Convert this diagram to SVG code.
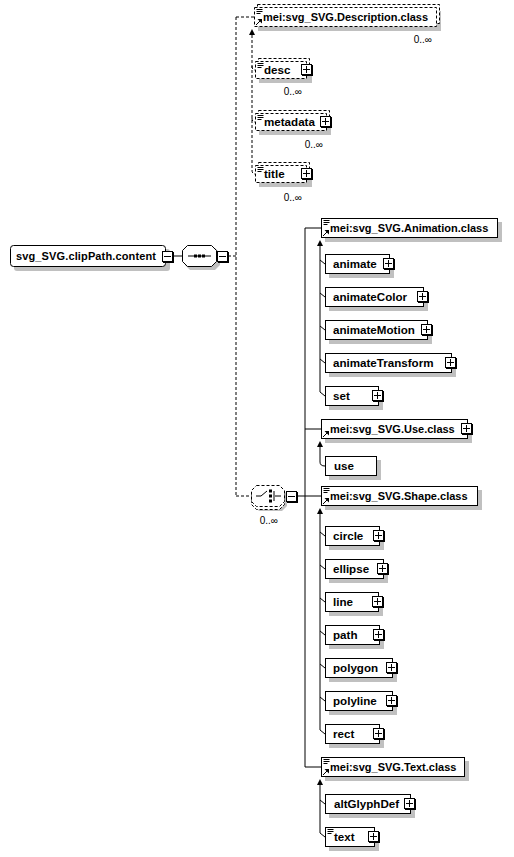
<svg xmlns="http://www.w3.org/2000/svg" width="514" height="857" viewBox="0 0 514 857">
<style>
.bg{fill:#ffffff}
.sh{fill:#c0c0c0}
.box{fill:#ffffff;stroke:#000000;stroke-width:1}
.dbox{fill:#ffffff;stroke:#000000;stroke-width:1;stroke-dasharray:3,2}
.t{font-family:"Liberation Sans",Arial,sans-serif;font-weight:bold;font-size:11px;fill:#000000}
.c{font-size:11.6px}
.occ{font-family:"Liberation Sans",Arial,sans-serif;font-size:10px;fill:#000000}
.ln{fill:none;stroke:#000000;stroke-width:1}
.dl{fill:none;stroke:#000000;stroke-width:1;stroke-dasharray:3,2}
.ic{fill:none;stroke:#000000;stroke-width:1}
</style>
<defs>
<g id="plus"><rect x="1" y="1" width="11" height="11" fill="#000000"/><rect x="0.5" y="0.5" width="10" height="10" class="box"/><path d="M2,5.5H9M5.5,2V9" class="ic"/></g>
<g id="minus"><rect x="1" y="1" width="11" height="11" fill="#000000"/><rect x="0.5" y="0.5" width="10" height="10" class="box"/><path d="M2,5.5H9" class="ic"/></g>
<g id="doc"><path d="M0.5,0.5H6.5M0.5,2.5H6.5M0.5,4.5H4.5" class="ic"/></g>
<g id="ref"><path d="M0,6L4,2" class="ic"/><path d="M1.5,0H6V4.5Z" fill="#000000"/></g>
<path id="up" d="M0,0L-3,6H3Z" fill="#000000"/>
</defs>
<rect width="514" height="857" class="bg"/>

<g id="connectors">
<path d="M173,256H182" class="ln"/>
<path d="M228,256H236M236,17V496M236,17H254M236,496H251" class="dl"/>
<path d="M252,35V170Q252,174 255,174M252,66Q252,70 255,70M252,118Q252,122 255,122" class="dl"/>
<use href="#up" x="252" y="29"/>
<path d="M297,496H305M305,228V767M305,228H321M305,429H321M305,496H321M305,767H321" class="ln"/>
<path d="M320,246V392L325,396M320,260L325,264M320,293L325,297M320,326L325,330M320,359L325,363" class="ln"/>
<use href="#up" x="320" y="240"/>
<path d="M320,447V462Q320,466 325,466" class="ln"/>
<use href="#up" x="320" y="441"/>
<path d="M320,514V730L325,734M320,532L325,536M320,565L325,569M320,598L325,602M320,631L325,635M320,664L325,668M320,697L325,701" class="ln"/>
<use href="#up" x="320" y="508"/>
<path d="M320,785V833L325,837M320,800L325,804" class="ln"/>
<use href="#up" x="320" y="779"/>
</g>

<g id="root">
<rect x="14" y="249" width="156" height="22" rx="3" class="sh"/>
<rect x="10.5" y="245.5" width="155" height="21" rx="3" class="box"/>
<text x="16" y="260" class="t" textLength="140">svg_SVG.clipPath.content</text>
<use href="#minus" x="162" y="251"/>
</g>

<g id="sequence">
<polygon points="190,248 215,248 220,253 220,265 215,270 190,270 185,265 185,253" class="sh"/>
<polygon points="187.5,245.5 211.5,245.5 216.5,250.5 216.5,261.5 211.5,266.5 187.5,266.5 182.5,261.5 182.5,250.5" class="box"/>
<path d="M188,256H211" class="ln"/>
<rect x="194" y="254.5" width="3" height="3" fill="#000000"/>
<rect x="198" y="254.5" width="3" height="3" fill="#000000"/>
<rect x="202" y="254.5" width="3" height="3" fill="#000000"/>
<use href="#minus" x="217" y="251"/>
</g>

<g id="description-class">
<rect x="258" y="11" width="183" height="20" class="sh"/>
<rect x="257.5" y="4.5" width="182" height="19" class="dbox"/>
<rect x="254.5" y="7.5" width="182" height="19" class="dbox"/>
<use href="#doc" x="256" y="9"/>
<use href="#ref" x="256" y="19"/>
<text x="263" y="21" class="t">mei:svg_SVG.Description.class</text>
<text x="432" y="43" class="occ" text-anchor="end">0..∞</text>
</g>

<g id="desc">
<rect x="259" y="65" width="53" height="18" class="sh"/>
<rect x="258.5" y="58.5" width="51" height="17" class="dbox"/>
<rect x="255.5" y="61.5" width="51" height="17" class="dbox"/>
<use href="#doc" x="257" y="63"/>
<text x="264" y="74" class="t c">desc</text>
<use href="#plus" x="301" y="64"/>
<text x="302" y="95" class="occ" text-anchor="end">0..∞</text>
</g>

<g id="metadata">
<rect x="259" y="117" width="72" height="18" class="sh"/>
<rect x="258.5" y="110.5" width="71" height="17" class="dbox"/>
<rect x="255.5" y="113.5" width="71" height="17" class="dbox"/>
<use href="#doc" x="257" y="115"/>
<text x="264" y="126" class="t c">metadata</text>
<use href="#plus" x="320" y="116"/>
<text x="323" y="148" class="occ" text-anchor="end">0..∞</text>
</g>

<g id="title">
<rect x="259" y="169" width="53" height="18" class="sh"/>
<rect x="258.5" y="162.5" width="51" height="17" class="dbox"/>
<rect x="255.5" y="165.5" width="51" height="17" class="dbox"/>
<use href="#doc" x="257" y="167"/>
<text x="264" y="178" class="t c">title</text>
<use href="#plus" x="301" y="168"/>
<text x="302" y="201" class="occ" text-anchor="end">0..∞</text>
</g>

<g id="choice">
<polygon points="259,489 282,489 287,494 287,506 282,511 259,511 254,506 254,494" class="sh"/>
<polygon points="256.5,488.5 279.5,488.5 284.5,493.5 284.5,504.5 279.5,509.5 256.5,509.5 251.5,504.5 251.5,493.5" class="dbox"/>
<polygon points="256.5,485.5 279.5,485.5 284.5,490.5 284.5,501.5 279.5,506.5 256.5,506.5 251.5,501.5 251.5,490.5" class="dbox"/>
<path d="M256,496H261L267,491M275,496H281M274,491V501" class="ln"/>
<rect x="269" y="489.5" width="3" height="3" fill="#000000"/>
<rect x="269" y="494.5" width="3" height="3" fill="#000000"/>
<rect x="269" y="499.5" width="3" height="3" fill="#000000"/>
<use href="#minus" x="286" y="491"/>
<text x="278" y="524" class="occ" text-anchor="end">0..∞</text>
</g>

<g id="animation-class">
<rect x="325" y="222" width="177" height="20" class="sh"/>
<rect x="321.5" y="218.5" width="176" height="19" class="box"/>
<use href="#doc" x="323" y="220"/>
<use href="#ref" x="323" y="230"/>
<text x="330" y="232" class="t">mei:svg_SVG.Animation.class</text>
</g>
<g id="animate">
<rect x="329" y="258" width="65" height="20" class="sh"/>
<rect x="325.5" y="254.5" width="64" height="19" class="box"/>
<text x="333" y="268" class="t c">animate</text>
<use href="#plus" x="383" y="258"/>
</g>
<g id="animateColor">
<rect x="329" y="291" width="99" height="20" class="sh"/>
<rect x="325.5" y="287.5" width="98" height="19" class="box"/>
<text x="333" y="301" class="t c">animateColor</text>
<use href="#plus" x="417" y="291"/>
</g>
<g id="animateMotion">
<rect x="329" y="324" width="103" height="20" class="sh"/>
<rect x="325.5" y="320.5" width="102" height="19" class="box"/>
<text x="333" y="334" class="t c">animateMotion</text>
<use href="#plus" x="421" y="324"/>
</g>
<g id="animateTransform">
<rect x="329" y="357" width="127" height="20" class="sh"/>
<rect x="325.5" y="353.5" width="126" height="19" class="box"/>
<text x="333" y="367" class="t c">animateTransform</text>
<use href="#plus" x="445" y="357"/>
</g>
<g id="set">
<rect x="329" y="390" width="54" height="20" class="sh"/>
<rect x="325.5" y="386.5" width="53" height="19" class="box"/>
<text x="333" y="400" class="t c">set</text>
<use href="#plus" x="372" y="390"/>
</g>

<g id="use-class">
<rect x="325" y="423" width="147" height="20" class="sh"/>
<rect x="321.5" y="419.5" width="146" height="19" class="box"/>
<use href="#ref" x="323" y="431"/>
<text x="330" y="433" class="t">mei:svg_SVG.Use.class</text>
<use href="#plus" x="461" y="423"/>
</g>
<g id="use">
<rect x="329" y="460" width="52" height="20" class="sh"/>
<rect x="325.5" y="456.5" width="51" height="19" class="box"/>
<text x="334" y="470" class="t c">use</text>
</g>

<g id="shape-class">
<rect x="325" y="490" width="157" height="20" class="sh"/>
<rect x="321.5" y="486.5" width="156" height="19" class="box"/>
<use href="#doc" x="323" y="488"/>
<use href="#ref" x="323" y="498"/>
<text x="330" y="500" class="t">mei:svg_SVG.Shape.class</text>
</g>
<g id="circle">
<rect x="329" y="530" width="55" height="20" class="sh"/>
<rect x="325.5" y="526.5" width="54" height="19" class="box"/>
<text x="333" y="540" class="t c">circle</text>
<use href="#plus" x="373" y="530"/>
</g>
<g id="ellipse">
<rect x="329" y="563" width="59" height="20" class="sh"/>
<rect x="325.5" y="559.5" width="58" height="19" class="box"/>
<text x="333" y="573" class="t c">ellipse</text>
<use href="#plus" x="377" y="563"/>
</g>
<g id="line">
<rect x="329" y="596" width="54" height="20" class="sh"/>
<rect x="325.5" y="592.5" width="53" height="19" class="box"/>
<text x="333" y="606" class="t c">line</text>
<use href="#plus" x="372" y="596"/>
</g>
<g id="path">
<rect x="329" y="629" width="55" height="20" class="sh"/>
<rect x="325.5" y="625.5" width="54" height="19" class="box"/>
<text x="333" y="639" class="t c">path</text>
<use href="#plus" x="373" y="629"/>
</g>
<g id="polygon">
<rect x="329" y="662" width="68" height="20" class="sh"/>
<rect x="325.5" y="658.5" width="67" height="19" class="box"/>
<text x="333" y="672" class="t c">polygon</text>
<use href="#plus" x="386" y="662"/>
</g>
<g id="polyline">
<rect x="329" y="695" width="68" height="20" class="sh"/>
<rect x="325.5" y="691.5" width="67" height="19" class="box"/>
<text x="333" y="705" class="t c">polyline</text>
<use href="#plus" x="386" y="695"/>
</g>
<g id="rect">
<rect x="329" y="728" width="55" height="20" class="sh"/>
<rect x="325.5" y="724.5" width="54" height="19" class="box"/>
<text x="333" y="738" class="t c">rect</text>
<use href="#plus" x="373" y="728"/>
</g>

<g id="text-class">
<rect x="325" y="761" width="144" height="20" class="sh"/>
<rect x="321.5" y="757.5" width="143" height="19" class="box"/>
<use href="#doc" x="323" y="759"/>
<use href="#ref" x="323" y="769"/>
<text x="330" y="771" class="t">mei:svg_SVG.Text.class</text>
</g>
<g id="altGlyphDef">
<rect x="329" y="798" width="86" height="20" class="sh"/>
<rect x="325.5" y="794.5" width="85" height="19" class="box"/>
<text x="334" y="808" class="t c">altGlyphDef</text>
<use href="#plus" x="404" y="798"/>
</g>
<g id="text">
<rect x="329" y="831" width="50" height="20" class="sh"/>
<rect x="325.5" y="827.5" width="49" height="19" class="box"/>
<use href="#doc" x="327" y="829"/>
<text x="334" y="841" class="t c">text</text>
<use href="#plus" x="368" y="831"/>
</g>
</svg>
